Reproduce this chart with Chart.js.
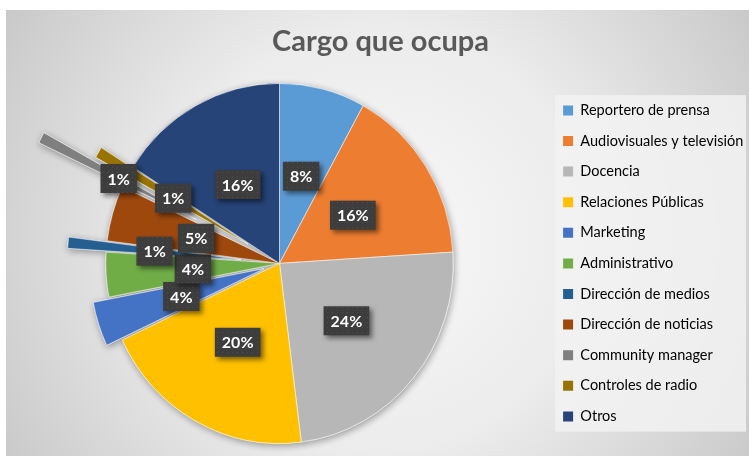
<!DOCTYPE html>
<html lang="es">
<head>
<meta charset="utf-8">
<title>Cargo que ocupa</title>
<script src="https://cdn.jsdelivr.net/npm/chart.js@4.4.1/dist/chart.umd.min.js"></script>
<style>
	html, body { margin: 0; padding: 0; background: #ffffff; }
	#wrap { width: 749px; height: 456px; }
</style>
</head>
<body>
<div id="wrap"><canvas id="cargoChart" width="749" height="456"></canvas></div>
<script>
const cargos = [
	"Reportero de prensa",
	"Audiovisuales y televisión",
	"Docencia",
	"Relaciones Públicas",
	"Marketing",
	"Administrativo",
	"Dirección de medios",
	"Dirección de noticias",
	"Community manager",
	"Controles de radio",
	"Otros",
];
const porcentajes = [8, 16, 24, 20, 4, 4, 1, 5, 1, 1, 16];

const colores = [
	"#5B9BD5",
	"#ED7D31",
	"#B7B7B7",
	"#FFC000",
	"#4472C4",
	"#70AD47",
	"#255E91",
	"#9E480E",
	"#7F7F7F",
	"#997300",
	"#264478",
];
// slices pulled out of the pie (px)
const separacion = [0, 0, 0, 0, 17, 0, 40, 0, 97, 38, 0];
const escalaX = 0.965; // the original pie is slightly squeezed

const fondo = {
	id: "fondo",
	beforeDraw(chart) {
		const ctx = chart.ctx;
		ctx.save();
		ctx.fillStyle = "#ffffff";
		ctx.fillRect(0, 0, chart.width, chart.height);
		const g = ctx.createRadialGradient(380, 240, 0, 380, 240, 470);
		g.addColorStop(0, "#f8f8f8");
		g.addColorStop(0.45, "#ececec");
		g.addColorStop(1, "#c4c4c4");
		ctx.fillStyle = g;
		ctx.fillRect(6, 10, chart.width - 6, chart.height - 10);

		const hb = chart.legend.legendHitBoxes;
		if (hb && hb.length) {
			const last = hb[hb.length - 1];
			const x0 = hb[0].left - 8;
			const y0 = hb[0].top - 8;
			ctx.fillStyle = "rgba(242,242,242,0.85)";
			ctx.fillRect(x0, y0, 746 - x0, last.top + last.height + 8 - y0);
		}
		ctx.restore();
	},
};

// draw each arc ourselves so exploded slices move the way Excel moves them
const explotar = {
	id: "explotar",
	beforeDatasetDraw(chart, args) {
		const ctx = chart.ctx;
		const arcs = args.meta.data;
		const pintar = (conSombra) => {
			arcs.forEach((arc, i) => {
				const mid = (arc.startAngle + arc.endAngle) / 2;
				const d = separacion[i];
				ctx.save();
				if (conSombra) {
					ctx.shadowColor = "rgba(0,0,0,0.35)";
					ctx.shadowBlur = 7;
					ctx.shadowOffsetX = 1;
					ctx.shadowOffsetY = 2;
				}
				ctx.translate(arc.x, arc.y);
				ctx.scale(escalaX, 1);
				ctx.translate(-arc.x, -arc.y);
				ctx.translate(Math.cos(mid) * d, Math.sin(mid) * d);
				arc.draw(ctx);
				ctx.restore();
			});
		};
		pintar(true);
		pintar(false);
		return false;
	},
};

const etiquetas = {
	id: "etiquetas",
	afterDatasetsDraw(chart) {
		const ctx = chart.ctx;
		const arcs = chart.getDatasetMeta(0).data;
		const total = porcentajes.reduce((a, b) => a + b, 0);

		const tile = document.createElement("canvas");
		tile.width = 5;
		tile.height = 5;
		const tc = tile.getContext("2d");
		tc.fillStyle = "#3d3d3d";
		tc.fillRect(0, 0, 5, 5);
		tc.fillStyle = "#4e4e4e";
		tc.fillRect(2, 2, 1, 1);
		const patron = ctx.createPattern(tile, "repeat");

		ctx.save();
		ctx.font = "bold 16px Lato";
		ctx.textAlign = "center";
		ctx.textBaseline = "middle";
		arcs.forEach((arc, i) => {
			const mid = (arc.startAngle + arc.endAngle) / 2;
			const d = separacion[i] + arc.outerRadius * 0.5;
			const x = arc.x + Math.cos(mid) * d * escalaX;
			const y = arc.y + Math.sin(mid) * d;
			const txt = Math.round((porcentajes[i] / total) * 100) + "%";
			const w = ctx.measureText(txt).width + 14;
			const h = 29;
			ctx.save();
			ctx.shadowColor = "rgba(0,0,0,0.5)";
			ctx.shadowBlur = 5;
			ctx.shadowOffsetX = 3;
			ctx.shadowOffsetY = 3;
			ctx.fillStyle = patron;
			ctx.fillRect(x - w / 2, y - h / 2, w, h);
			ctx.restore();
			ctx.fillStyle = "#ffffff";
			ctx.fillText(txt, x, y + 1);
		});
		ctx.restore();
	},
};

const data = {
	labels: cargos,
	datasets: [
		{
			data: porcentajes,
			backgroundColor: colores,
			borderColor: "rgba(255,255,255,0.55)",
			borderWidth: 1,
		},
	],
};

const config = {
	type: "pie",
	data: data,
	options: {
		responsive: false,
		animation: false,
		events: [],
		radius: 180,
		layout: {
			padding: { top: 10, left: 12, right: 0, bottom: 0 },
		},
		plugins: {
			title: {
				display: true,
				text: "Cargo que ocupa",
				color: "#595959",
				font: { family: "Lato", size: 29, weight: "bold" },
				padding: { top: 14, bottom: 12 },
			},
			legend: {
				position: "right",
				fullSize: false,
				maxWidth: 202,
				labels: {
					boxWidth: 10,
					boxHeight: 10,
					padding: 16.1,
					color: "#595959",
					font: { family: "Lato", size: 14.5 },
					generateLabels: () =>
						cargos.map((c, i) => ({
							text: c,
							fillStyle: colores[i],
							strokeStyle: colores[i],
							lineWidth: 0,
							hidden: false,
							index: i,
						})),
				},
			},
			tooltip: { enabled: false },
		},
	},
	plugins: [fondo, explotar, etiquetas],
};

const cargoChart = new Chart(document.getElementById("cargoChart"), config);
</script>
</body>
</html>
